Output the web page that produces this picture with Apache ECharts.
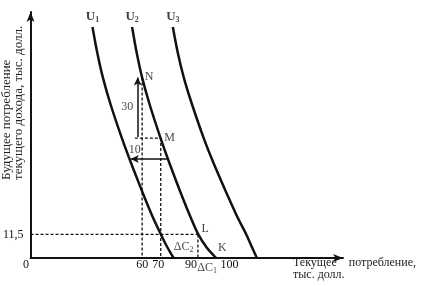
<!DOCTYPE html>
<html>
<head>
<meta charset="utf-8">
<script src="https://cdn.jsdelivr.net/npm/echarts@6/dist/echarts.min.js"></script>
<style>html,body{margin:0;padding:0;background:#fff;}#c{width:429px;height:286px;}</style>
</head>
<body>
<div id="c"></div>
<script>
// Indifference curves (current consumption, future consumption)
const u1 = [[33.3,112.7],[35.9,100],[38.9,88],[43.0,75],[49.1,58.5],[54.6,45],[61.1,30],[65.7,20],[70.1,11.5],[73.7,5],[76.9,0]];
const u2 = [[54.6,112.7],[57.1,100],[60.0,88],[64.0,75],[69.9,58.5],[75.2,45],[81.5,30],[86.0,20],[90.2,11.5],[94.8,5],[99.8,0]];
const u3 = [[76.5,112.7],[79.2,100],[82.4,88],[86.8,75],[93.1,58.5],[99.0,45],[106.2,30],[111.2,20],[116.0,11.5],[119.2,5],[121.7,0]];
const curveNames = ['1','2','3'];
const pointN = [60, 88];
const pointM = [70, 58.5];
const pointL = [90, 11.5];
const pointK = [100, 0];
const arrow30 = [[57.6, 59], [57.6, 88]];
const arrow10 = [[74.2, 48.3], [53.9, 48.3]];
const xTicks = [0, 60, 70, 90, 100];
const yTicks = [11.5];
const yTickText = ['11,5'];

const FONT = '"Liberation Serif", "DejaVu Serif", serif';
const ink = '#111';

function dashed(points) {
  return {
    type: 'line', data: points, showSymbol: false, silent: true, animation: false,
    lineStyle: { color: ink, width: 1.3, type: [3, 2] }, z: 2
  };
}
function curve(points) {
  return {
    type: 'line', data: points, smooth: 0.3, showSymbol: false, silent: true, animation: false,
    lineStyle: { color: ink, width: 2.5 }, z: 3
  };
}
const rich = {
  u: { fontFamily: FONT, fontSize: 13, fontWeight: 'bold', color: ink },
  s: { fontFamily: FONT, fontSize: 8, fontWeight: 'bold', color: ink, verticalAlign: 'bottom', padding: [6, 0, 0, 0] },
  t: { fontFamily: FONT, fontSize: 12, color: ink },
  d: { fontFamily: FONT, fontSize: 8, color: ink, padding: [5, 0, 0, 0] }
};
function note(value, text, position, distance, offset) {
  return { value: value, label: { show: true, formatter: text, position: position, distance: distance, offset: offset || [0, 0], rich: rich } };
}
const curves = [u1, u2, u3];
const notes = [];
curves.forEach((c, i) => notes.push(note(c[0], '{u|U}{s|' + curveNames[i] + '}', 'top', 3)));
notes.push(note(pointN, '{t|N}', 'right', 2, [0, -1]));
notes.push(note(pointM, '{t|M}', 'right', 3, [0, 0]));
notes.push(note(pointL, '{t|L}', 'right', 3, [0, -6]));
notes.push(note(pointK, '{t|K}', 'right', 1, [0, -10]));
notes.push(note([arrow30[0][0], (arrow30[0][1] + arrow30[1][1]) / 2], '{t|30}', 'left', 4, [0, 0]));
notes.push(note(arrow10[1], '{t|10}', 'top', 3, [4, 0]));
notes.push(note([pointL[0], pointL[1] / 2], '{t|ΔC}{d|2}', 'left', 4, [0, 1]));
notes.push(note([(pointL[0] + pointK[0]) / 2, 0], '{t|ΔC}{d|1}', 'bottom', 3, [0, 0]));

const series = [
  curve(u1), curve(u2), curve(u3),
  dashed([pointN, [pointN[0], 0]]),
  dashed([pointM, [pointM[0], 0]]),
  dashed([[arrow30[0][0] - 1.5, pointM[1]], pointM]),
  dashed([[0, pointL[1]], pointL]),
  dashed([pointL, [pointL[0], 0]]),
  {
    type: 'line', data: [], silent: true, animation: false,
    markLine: {
      silent: true, animation: false, symbol: ['none', 'arrow'], symbolSize: [6, 8],
      label: { show: false },
      lineStyle: { color: ink, width: 1.5, type: 'solid' },
      data: [
        [{ coord: arrow30[0] }, { coord: arrow30[1] }],
        [{ coord: arrow10[0] }, { coord: arrow10[1] }]
      ]
    }
  },
  {
    type: 'scatter', data: notes, symbolSize: 1, silent: true, animation: false,
    itemStyle: { color: 'rgba(0,0,0,0)' }, z: 5
  }
];

const xPad = { 0: [0, 9, 0, 0], 60: [0, 0, 0, 0], 70: [0, 5, 0, 0], 90: [0, 14, 0, 0], 100: [0, 0, 0, 26] };
const xRich = {};
xTicks.forEach(v => { xRich['v' + v] = { fontFamily: FONT, fontSize: 12, color: ink, padding: xPad[v] || [0, 0, 0, 0] }; });

const chart = echarts.init(document.getElementById('c'), null, { renderer: 'canvas' });
chart.setOption({
  animation: false,
  backgroundColor: '#fff',
  grid: { left: 29, right: 86, top: 12, bottom: 28, containLabel: false },
  xAxis: {
    type: 'value', min: 0, max: 168,
    splitLine: { show: false },
    axisTick: { show: false },
    axisLine: { show: true, lineStyle: { color: ink, width: 2 }, symbol: ['none', 'arrow'], symbolSize: [6, 10] },
    axisLabel: {
      customValues: xTicks, margin: 1, color: ink, fontFamily: FONT, fontSize: 12,
      formatter: v => '{v' + v + '|' + v + '}', rich: xRich
    }
  },
  yAxis: {
    type: 'value', min: 0, max: 120,
    splitLine: { show: false },
    axisTick: { show: false },
    axisLine: { show: true, lineStyle: { color: ink, width: 2 }, symbol: ['none', 'arrow'], symbolSize: [6, 10] },
    axisLabel: {
      customValues: yTicks, margin: 7, color: ink, fontFamily: FONT, fontSize: 12,
      formatter: v => yTickText[yTicks.indexOf(v)]
    }
  },
  graphic: [
    { type: 'text', x: 7, y: 180, rotation: Math.PI / 2, silent: true,
      style: { text: 'Будущее потребление', font: '13px ' + FONT, fill: '#222', align: 'left', verticalAlign: 'middle' } },
    { type: 'text', x: 19, y: 180, rotation: Math.PI / 2, silent: true,
      style: { text: 'текущего дохода, тыс. долл.', font: '13px ' + FONT, fill: '#222', align: 'left', verticalAlign: 'middle' } },
    { type: 'text', x: 293, y: 257, silent: true,
      style: { text: 'Текущее    потребление,\nтыс. долл.', font: '12px ' + FONT, lineHeight: 12, fill: '#222', align: 'left', verticalAlign: 'top' } }
  ],
  series: series
});
</script>
</body>
</html>
